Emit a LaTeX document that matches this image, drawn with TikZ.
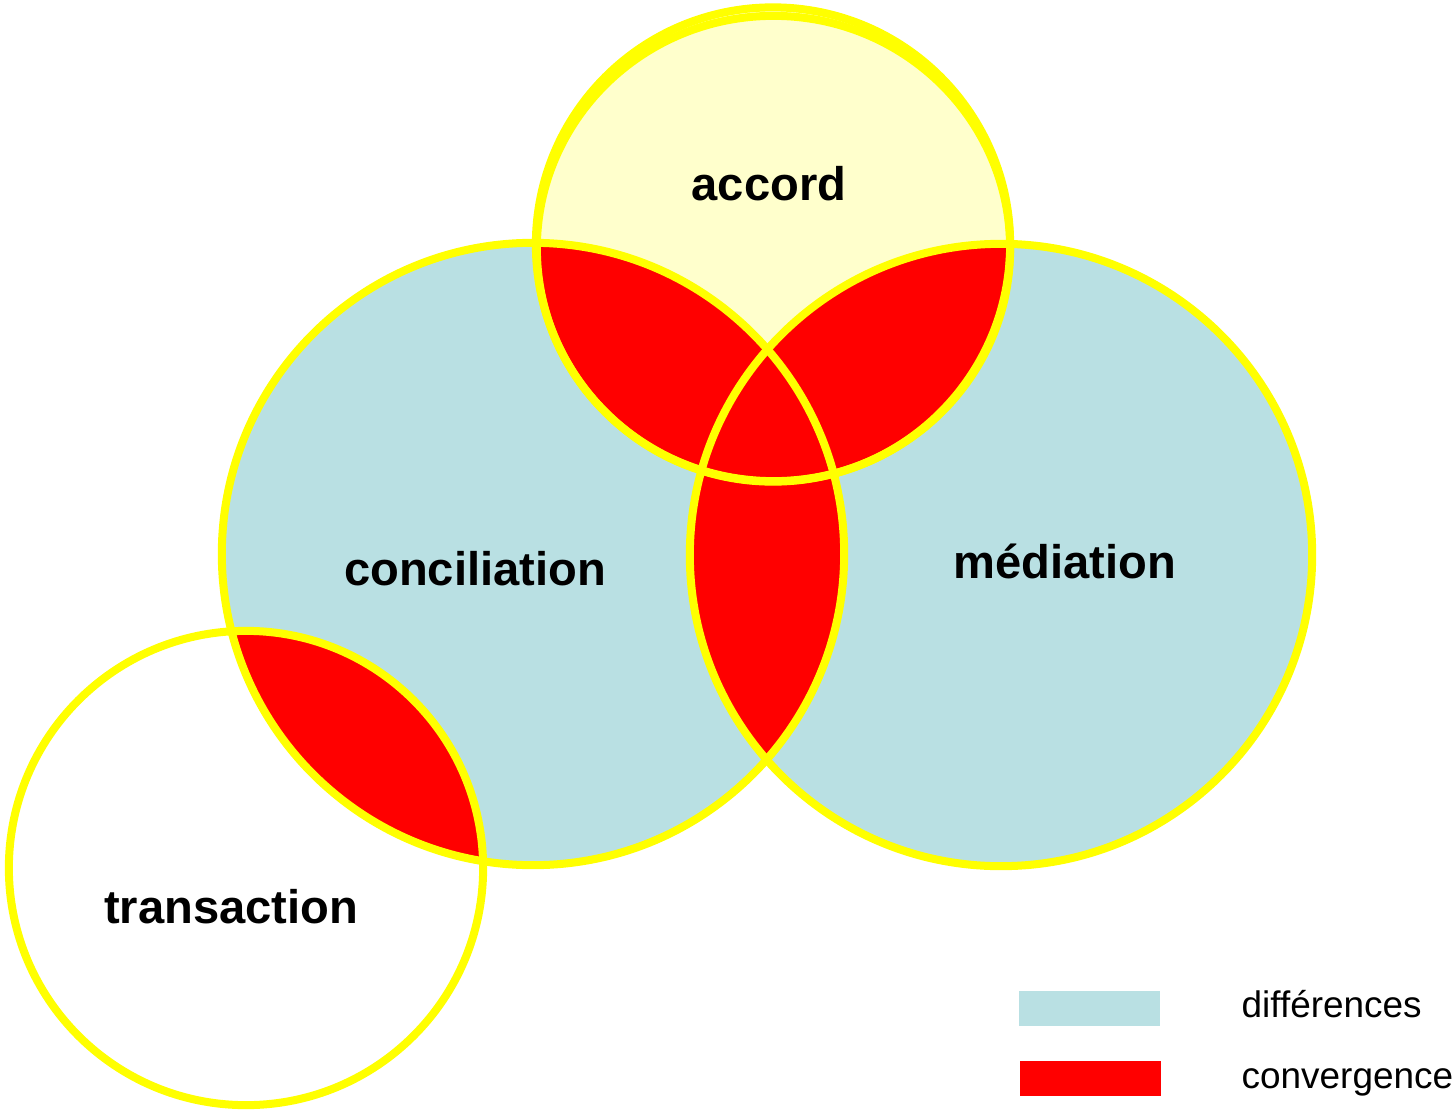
\documentclass[tikz,border=0pt]{standalone}
\usepackage{fontspec}
\setmainfont{Liberation Sans}
\definecolor{diffblue}{HTML}{B9E0E3}
\definecolor{accordyellow}{HTML}{FFFFCC}
\definecolor{ringyellow}{HTML}{FFFF00}
\definecolor{convred}{HTML}{FF0000}
\begin{document}
\begin{tikzpicture}[x=0.01cm,y=-0.01cm,
  ring/.style={draw=ringyellow,line width=0.08cm},
  biglabel/.style={font=\bfseries\fontsize{13.4pt}{16pt}\selectfont,anchor=base,inner sep=0pt},
  legendlabel/.style={font=\fontsize{10.5pt}{12pt}\selectfont,anchor=base west,inner sep=0pt},
  swatch/.style={draw=none}]
\useasboundingbox (0,0) rectangle (1454,1112);
% centres
\coordinate (cA) at (773,244.5);
\coordinate (cA2) at (773.5,248.5);
\coordinate (cC) at (533,554);
\coordinate (cM) at (1001,555);
\coordinate (cT) at (246,868);
% fills
\fill[diffblue] (cC) circle[radius=3.11cm];
\fill[diffblue] (cM) circle[radius=3.11cm];
\fill[white] (cT) circle[radius=2.37cm];
\fill[accordyellow] (cA) circle[radius=2.37cm];
% convergence regions
\begin{scope}
  \clip (cA) circle[radius=2.37cm];
  \fill[convred] (cC) circle[radius=3.11cm];
  \fill[convred] (cM) circle[radius=3.11cm];
\end{scope}
\begin{scope}
  \clip (cC) circle[radius=3.11cm];
  \fill[convred] (cM) circle[radius=3.11cm];
  \fill[convred] (cT) circle[radius=2.37cm];
\end{scope}
% rings
\draw[ring] (cC) circle[radius=3.11cm];
\draw[ring] (cM) circle[radius=3.11cm];
\draw[ring] (cT) circle[radius=2.37cm];
\draw[ring] (cA) circle[radius=2.37cm];
\draw[ring] (cA2) ellipse[x radius=2.365cm,y radius=2.325cm];
% labels
\node[biglabel] (accord) at (769,200) {accord};
\node[biglabel] (conciliation) at (475,585) {conciliation};
\node[biglabel] (mediation) at (1065,578) {médiation};
\node[biglabel] (transaction) at (231,923) {transaction};
% legend
\fill[diffblue] (1019,991) rectangle (1160,1026);
\fill[convred] (1020,1061) rectangle (1161,1096);
\node[legendlabel] (diff) at (1241,1017) {différences};
\node[legendlabel] (conv) at (1241,1088) {convergence};
\end{tikzpicture}
\end{document}
